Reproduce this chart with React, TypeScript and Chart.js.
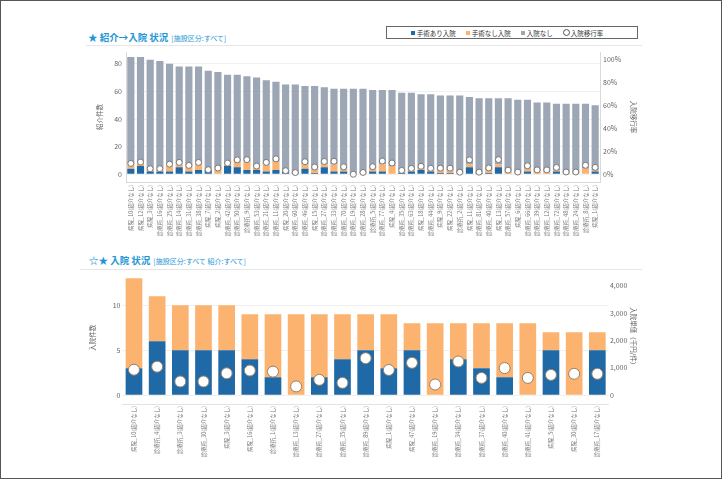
import React, { useEffect, useRef } from "react";
import { Chart, registerables } from "chart.js";
Chart.register(...registerables);

const FONT = "'Noto Sans CJK JP', 'Noto Sans', sans-serif";
const BLUE = "#1f69a6";
const ORANGE = "#fbb36f";
const GRAY = "#9ca6b4";
const TITLE_BLUE = "#1e96d6";

// ---- top chart data ----
const topLabels = [
  "病院_10(紹介なし)", "病院_12(紹介なし)", "病院_3(紹介なし)", "診療所_16(紹介なし)", "診療所_25(紹介なし)",
  "診療所_14(紹介なし)", "診療所_31(紹介なし)", "診療所_38(紹介なし)", "病院_7(紹介なし)", "病院_2(紹介なし)",
  "診療所_42(紹介なし)", "診療所_50(紹介なし)", "診療所_9(紹介なし)", "診療所_53(紹介なし)", "診療所_21(紹介なし)",
  "診療所_11(紹介なし)", "病院_20(紹介なし)", "診療所_60(紹介なし)", "診療所_46(紹介なし)", "病院_15(紹介なし)",
  "診療所_27(紹介なし)", "診療所_33(紹介なし)", "診療所_70(紹介なし)", "診療所_19(紹介なし)", "診療所_28(紹介なし)",
  "診療所_5(紹介なし)", "診療所_77(紹介なし)", "病院_4(紹介なし)", "診療所_35(紹介なし)", "診療所_63(紹介なし)",
  "病院_18(紹介なし)", "診療所_44(紹介なし)", "病院_9(紹介なし)", "病院_22(紹介なし)", "診療所_2(紹介なし)",
  "病院_11(紹介なし)", "診療所_81(紹介なし)", "診療所_40(紹介なし)", "病院_13(紹介なし)", "診療所_57(紹介なし)",
  "病院_6(紹介なし)", "診療所_66(紹介なし)", "診療所_39(紹介なし)", "診療所_12(紹介なし)", "診療所_72(紹介なし)",
  "診療所_48(紹介なし)", "診療所_24(紹介なし)", "診療所_8(紹介なし)", "病院_1(紹介なし)",
];
const topSurgery = [4, 6, 2, 2, 2, 5, 2, 3, 3, 0, 6, 5, 3, 3, 2, 3, 2, 1, 4, 1, 5, 2, 2, 0, 0, 2, 2, 0, 1, 2, 3, 2, 1, 1, 0, 5, 1, 1, 5, 0, 0, 2, 0, 0, 2, 0, 0, 0, 2];
const topNoSurgery = [4, 3, 2, 2, 5, 3, 4, 5, 0, 4, 1, 4, 6, 2, 5, 6, 0, 0, 3, 3, 2, 5, 2, 0, 1, 2, 5, 6, 1, 1, 1, 1, 2, 2, 1, 2, 0, 2, 2, 2, 1, 2, 2, 2, 1, 1, 1, 4, 1];
const topNoAdmit = [77, 76, 79, 78, 73, 70, 72, 70, 72, 70, 65, 63, 62, 65, 61, 58, 63, 64, 57, 60, 56, 55, 58, 62, 61, 57, 54, 55, 57, 56, 54, 55, 54, 54, 56, 49, 54, 52, 48, 53, 53, 50, 50, 50, 48, 50, 50, 47, 47];
const topRate = [9.4, 10.6, 4.8, 4.9, 8.8, 10.3, 7.7, 10.3, 4.0, 5.4, 9.7, 12.5, 12.7, 7.1, 10.3, 13.4, 3.1, 1.5, 10.9, 6.3, 11.1, 11.3, 6.5, 0, 1.6, 6.6, 11.5, 9.8, 3.4, 5.1, 6.9, 5.2, 5.3, 5.3, 1.8, 12.5, 1.8, 5.5, 12.7, 3.6, 1.9, 7.4, 3.8, 3.8, 5.9, 2.0, 2.0, 7.8, 6.0];
const topLeftTicks = [0, 20, 40, 60, 80];
const topRightTicks = [0, 20, 40, 60, 80, 100];

// ---- bottom chart data ----
const bottomLabels = [
  "病院_10(紹介なし)", "診療所_4(紹介なし)", "診療所_3(紹介なし)", "診療所_30(紹介なし)", "病院_3(紹介なし)",
  "病院_16(紹介なし)", "診療所_1(紹介なし)", "診療所_13(紹介なし)", "診療所_27(紹介なし)", "診療所_35(紹介なし)",
  "診療所_89(紹介なし)", "病院_1(紹介なし)", "病院_47(紹介なし)", "診療所_19(紹介なし)", "診療所_34(紹介なし)",
  "診療所_37(紹介なし)", "診療所_40(紹介なし)", "診療所_41(紹介なし)", "病院_5(紹介なし)", "病院_30(紹介なし)",
  "診療所_17(紹介なし)",
];
const bottomSurgery = [3, 6, 5, 5, 5, 4, 2, 0, 2, 4, 5, 3, 5, 0, 4, 3, 2, 0, 5, 0, 5];
const bottomNoSurgery = [10, 5, 5, 5, 5, 5, 7, 9, 7, 5, 4, 6, 3, 8, 4, 5, 6, 8, 2, 7, 2];
const bottomPrice = [930, 1040, 500, 500, 800, 900, 860, 320, 560, 450, 1350, 920, 1180, 390, 1230, 630, 990, 630, 740, 780, 780];
const bottomLeftTicks = [0, 5, 10];
const bottomRightTicks = [0, 1000, 2000, 3000, 4000];

const tickFont = { size: 7, family: FONT };
const labelFont = { size: 5.5, family: FONT };
const axisTitleFont = { size: 6.5, family: FONT };

function TopChart() {
  const ref = useRef<HTMLCanvasElement>(null);
  useEffect(() => {
    const chart = new Chart(ref.current!, {
      type: "bar",
      data: {
        labels: topLabels,
        datasets: [
          {
            type: "line",
            label: "入院移行率",
            data: topRate,
            yAxisID: "y1",
            showLine: false,
            pointRadius: 3,
            pointBackgroundColor: "#ffffff",
            pointBorderColor: "#7a7a7a",
            pointBorderWidth: 1,
            order: 0,
          } as any,
          { label: "手術あり入院", data: topSurgery, backgroundColor: BLUE, yAxisID: "y", stack: "s", order: 1, barPercentage: 0.74, categoryPercentage: 1 },
          { label: "手術なし入院", data: topNoSurgery, backgroundColor: ORANGE, yAxisID: "y", stack: "s", order: 1, barPercentage: 0.74, categoryPercentage: 1 },
          { label: "入院なし", data: topNoAdmit, backgroundColor: GRAY, yAxisID: "y", stack: "s", order: 1, barPercentage: 0.74, categoryPercentage: 1 },
        ],
      },
      options: {
        animation: false,
        responsive: false,
        maintainAspectRatio: false,
        layout: { padding: { top: 4, left: 0, right: 0, bottom: 0 } },
        plugins: { legend: { display: false }, tooltip: { enabled: false } },
        scales: {
          x: {
            stacked: true,
            grid: { display: false, drawTicks: false },
            border: { color: "#d9d9d9" },
            ticks: { minRotation: 90, maxRotation: 90, autoSkip: false, font: labelFont, color: "#777", padding: 3 },
            afterFit: (s: any) => { s.height = 62; },
          },
          y: {
            stacked: true,
            position: "left",
            min: -5.6,
            max: 88.4,
            afterBuildTicks: (s: any) => { s.ticks = topLeftTicks.map((v) => ({ value: v })); },
            ticks: { font: tickFont, color: "#666", padding: 4 },
            grid: { color: "#f0f0f0", drawTicks: false },
            border: { color: "#d9d9d9" },
            title: { display: true, text: "紹介件数", font: axisTitleFont, color: "#666", padding: 1 },
            afterFit: (s: any) => { s.width = 31; },
          },
          y1: {
            position: "right",
            min: -6.7,
            max: 105.9,
            afterBuildTicks: (s: any) => { s.ticks = topRightTicks.map((v) => ({ value: v })); },
            ticks: { font: tickFont, color: "#666", padding: 3, callback: (v: any) => v + "%" },
            grid: { display: false, drawTicks: false },
            border: { color: "#d9d9d9" },
            title: { display: true, text: "入院移行率", font: axisTitleFont, color: "#666", padding: 1 },
            afterFit: (s: any) => { s.width = 38; },
          },
        },
      } as any,
    });
    return () => chart.destroy();
  }, []);
  return <canvas ref={ref} width={543} height={200} style={{ position: "absolute", left: 95, top: 44, width: 543, height: 200 }} />;
}

function BottomChart() {
  const ref = useRef<HTMLCanvasElement>(null);
  useEffect(() => {
    const chart = new Chart(ref.current!, {
      type: "bar",
      data: {
        labels: bottomLabels,
        datasets: [
          {
            type: "line",
            label: "入院単価",
            data: bottomPrice,
            yAxisID: "y1",
            showLine: false,
            pointRadius: 5.5,
            pointBackgroundColor: "#ffffff",
            pointBorderColor: "#9a8068",
            pointBorderWidth: 1,
            order: 0,
          } as any,
          { label: "手術あり入院", data: bottomSurgery, backgroundColor: BLUE, yAxisID: "y", stack: "s", order: 1, barPercentage: 0.72, categoryPercentage: 1 },
          { label: "手術なし入院", data: bottomNoSurgery, backgroundColor: ORANGE, yAxisID: "y", stack: "s", order: 1, barPercentage: 0.72, categoryPercentage: 1 },
        ],
      },
      options: {
        animation: false,
        responsive: false,
        maintainAspectRatio: false,
        layout: { padding: { top: 4, left: 0, right: 0, bottom: 0 } },
        plugins: { legend: { display: false }, tooltip: { enabled: false } },
        scales: {
          x: {
            stacked: true,
            grid: { display: false, drawTicks: false },
            border: { color: "#e3e3e3" },
            ticks: { minRotation: 90, maxRotation: 90, autoSkip: false, font: labelFont, color: "#777", padding: 2 },
            afterFit: (s: any) => { s.height = 61; },
          },
          y: {
            stacked: true,
            position: "left",
            min: -0.98,
            max: 13.74,
            afterBuildTicks: (s: any) => { s.ticks = bottomLeftTicks.map((v) => ({ value: v })); },
            ticks: { font: tickFont, color: "#666", padding: 2 },
            grid: { color: "#f0f0f0", drawTicks: false },
            border: { display: false },
            title: { display: true, text: "入院件数", font: axisTitleFont, color: "#666", padding: 1 },
            afterFit: (s: any) => { s.width = 34.4; },
          },
          y1: {
            position: "right",
            min: -322,
            max: 4516,
            afterBuildTicks: (s: any) => { s.ticks = bottomRightTicks.map((v) => ({ value: v })); },
            ticks: { font: tickFont, color: "#666", padding: 1, callback: (v: any) => Number(v).toLocaleString("en-US") },
            grid: { display: false, drawTicks: false },
            border: { display: false },
            title: { display: true, text: "入院単価（千円/件）", font: axisTitleFont, color: "#666", padding: 1 },
            afterFit: (s: any) => { s.width = 29.1; },
          },
        },
      } as any,
    });
    return () => chart.destroy();
  }, []);
  return <canvas ref={ref} width={550} height={200} style={{ position: "absolute", left: 88, top: 265, width: 550, height: 200 }} />;
}

function LegendItem({ color, text, circle }: { color?: string; text: string; circle?: boolean }) {
  return (
    <span style={{ display: "inline-flex", alignItems: "center", marginRight: 10 }}>
      {circle ? (
        <span style={{ width: 5, height: 5, borderRadius: "50%", border: "1px solid #555", background: "#fff", marginRight: 1, display: "inline-block" }} />
      ) : (
        <span style={{ width: 4, height: 4, background: color, marginRight: 2, display: "inline-block" }} />
      )}
      {text}
    </span>
  );
}

export default function App() {
  useEffect(() => {
    document.body.style.margin = "0";
  }, []);
  return (
    <div style={{ position: "relative", width: 722, height: 480, background: "#fff", fontFamily: FONT, overflow: "hidden" }}>
      <div style={{ position: "absolute", left: 0, top: 0, width: 720, height: 477, border: "1px solid #555" }} />
      {/* top title */}
      <div style={{ position: "absolute", left: 88, top: 27, whiteSpace: "nowrap", color: TITLE_BLUE, lineHeight: "14px" }}>
        <span style={{ fontSize: 9.5, fontWeight: 700 }}>★ 紹介→入院 状況</span>
        <span style={{ fontSize: 7, marginLeft: 3 }}>[施設区分:すべて]</span>
      </div>
      <div style={{ position: "absolute", left: 386, top: 26, width: 250, height: 11, border: "1px solid #666", fontSize: 6.5, color: "#333", display: "flex", alignItems: "center", justifyContent: "center", whiteSpace: "nowrap" }}>
        <LegendItem color={BLUE} text="手術あり入院" />
        <LegendItem color={ORANGE} text="手術なし入院" />
        <LegendItem color={GRAY} text="入院なし" />
        <LegendItem circle text="入院移行率" />
      </div>
      <div style={{ position: "absolute", left: 86, top: 45, width: 556, height: 1, background: "#e6e6e6" }} />
      <TopChart />
      {/* bottom title */}
      <div style={{ position: "absolute", left: 89, top: 250, whiteSpace: "nowrap", color: TITLE_BLUE, lineHeight: "14px" }}>
        <span style={{ fontSize: 9.5, fontWeight: 700 }}>☆★ 入院 状況</span>
        <span style={{ fontSize: 7, marginLeft: 3 }}>[施設区分:すべて 紹介:すべて]</span>
      </div>
      <div style={{ position: "absolute", left: 80, top: 269, width: 562, height: 1, background: "#e6e6e6" }} />
      <BottomChart />
    </div>
  );
}
